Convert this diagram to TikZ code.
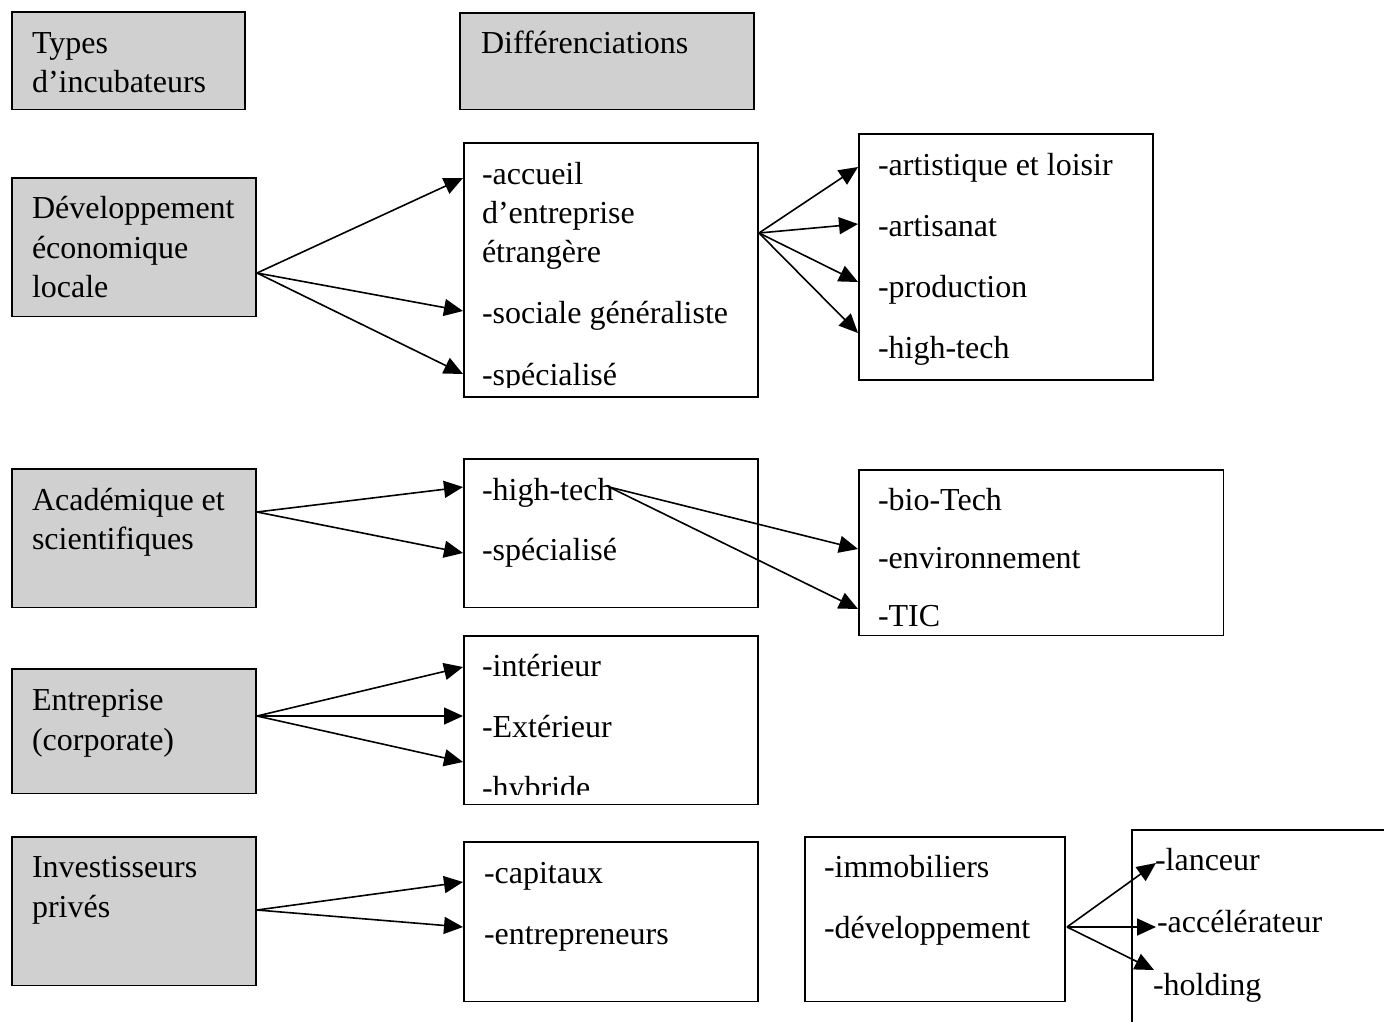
\documentclass[tikz,border=0pt]{standalone}
\usepackage{fontspec}
\setmainfont{Liberation Serif}
\usetikzlibrary{arrows.meta}
\definecolor{boxgray}{RGB}{208,208,208}
\tikzset{
  box/.style={draw=black, line width=1.6bp, inner sep=0pt, outer sep=0pt, anchor=north west},
  graybox/.style={box, fill=boxgray},
  txt/.style={anchor=base west, inner sep=0pt, outer sep=0pt, font=\fontsize{32bp}{39bp}\selectfont},
  arr/.style={line width=1.6bp, -{Triangle[length=19bp, width=17bp]}}
}
\begin{document}
\begin{tikzpicture}[x=1bp, y=-1bp]
\useasboundingbox (0,0) rectangle (1384,1021);
\fill[white] (0,0) rectangle (1384,1021);

% header boxes
\node[graybox, minimum width=234, minimum height=98] (hTypes) at (12,12) {};
\node[txt] (tTypes1) at (32,53) {Types};
\node[txt] (tTypes2) at (32,92) {d’incubateurs};
\node[graybox, minimum width=295, minimum height=97] (hDiff) at (460,13) {};
\node[txt] (tDiff) at (481,53) {Différenciations};

% row 1: développement économique locale
\node[graybox, minimum width=245, minimum height=139] (dev) at (12,178) {};
\node[txt] (tDev1) at (32,218) {Développement};
\node[txt] (tDev2) at (32,258) {économique};
\node[txt] (tDev3) at (32,297) {locale};
\node[box, minimum width=295, minimum height=255] (devA) at (464,143) {};
\begin{scope}
  \clip (466,145) rectangle (757,387);
  \node[txt] (tA1) at (482,184) {-accueil};
  \node[txt] (tA2) at (482,223) {d’entreprise};
  \node[txt] (tA3) at (482,262) {étrangère};
  \node[txt] (tA4) at (482,323) {-sociale généraliste};
  \node[txt] (tA5) at (482,385) {-spécialisé};
\end{scope}
\node[box, minimum width=295, minimum height=247] (devB) at (859,134) {};
\node[txt] (tB1) at (878,175) {-artistique et loisir};
\node[txt] (tB2) at (878,236) {-artisanat};
\node[txt] (tB3) at (878,297) {-production};
\node[txt] (tB4) at (878,358) {-high-tech};

\coordinate (devOut) at (257,273);
\coordinate (devIn1) at (463,178);
\coordinate (devIn2) at (463,311);
\coordinate (devIn3) at (463,374);
\draw[arr] (devOut) -- (devIn1);
\draw[arr] (devOut) -- (devIn2);
\draw[arr] (devOut) -- (devIn3);
\coordinate (devAOut) at (759,233);
\coordinate (devBIn1) at (858,167);
\coordinate (devBIn2) at (858,224);
\coordinate (devBIn3) at (858,282);
\coordinate (devBIn4) at (858,333);
\draw[arr] (devAOut) -- (devBIn1);
\draw[arr] (devAOut) -- (devBIn2);
\draw[arr] (devAOut) -- (devBIn3);
\draw[arr] (devAOut) -- (devBIn4);

% row 2: académique et scientifiques
\node[graybox, minimum width=245, minimum height=139] (aca) at (12,469) {};
\node[txt] (tAca1) at (32,510) {Académique et};
\node[txt] (tAca2) at (32,549) {scientifiques};
\node[box, minimum width=295, minimum height=149] (acaA) at (464,459) {};
\node[txt] (tC1) at (482,500) {-high-tech};
\node[txt] (tC2) at (482,560) {-spécialisé};
\node[box, minimum width=366, minimum height=166] (acaB) at (859,470) {};
\node[txt] (tD1) at (878,510) {-bio-Tech};
\node[txt] (tD2) at (878,568) {-environnement};
\node[txt] (tD3) at (878,626) {-TIC};

\coordinate (acaOut) at (257,512);
\coordinate (acaIn1) at (463,487);
\coordinate (acaIn2) at (463,553);
\draw[arr] (acaOut) -- (acaIn1);
\draw[arr] (acaOut) -- (acaIn2);
\coordinate (htOut) at (609,487);
\coordinate (acaBIn1) at (858,549);
\coordinate (acaBIn2) at (858,609);
\draw[arr] (htOut) -- (acaBIn1);
\draw[arr] (htOut) -- (acaBIn2);

% row 3: entreprise (corporate)
\node[graybox, minimum width=245, minimum height=125] (ent) at (12,669) {};
\node[txt] (tEnt1) at (32,710) {Entreprise};
\node[txt] (tEnt2) at (32,750) {(corporate)};
\node[box, minimum width=295, minimum height=169] (entA) at (464,636) {};
\begin{scope}
  \clip (466,638) rectangle (757,794);
  \node[txt] (tE1) at (482,676) {-intérieur};
  \node[txt] (tE2) at (482,737) {-Extérieur};
  \node[txt] (tE3) at (482,798) {-hybride};
\end{scope}

\coordinate (entOut) at (257,716);
\coordinate (entIn1) at (463,667);
\coordinate (entIn2) at (463,716);
\coordinate (entIn3) at (463,762);
\draw[arr] (entOut) -- (entIn1);
\draw[arr] (entOut) -- (entIn2);
\draw[arr] (entOut) -- (entIn3);

% row 4: investisseurs privés
\node[graybox, minimum width=245, minimum height=149] (inv) at (12,837) {};
\node[txt] (tInv1) at (32,877) {Investisseurs};
\node[txt] (tInv2) at (32,917) {privés};
\node[box, minimum width=295, minimum height=160] (invA) at (464,842) {};
\node[txt] (tF1) at (484,883) {-capitaux};
\node[txt] (tF2) at (484,944) {-entrepreneurs};
\node[box, minimum width=261, minimum height=165] (invB) at (805,837) {};
\node[txt] (tG1) at (824,877) {-immobiliers};
\node[txt] (tG2) at (824,938) {-développement};
\node[inner sep=0pt, outer sep=0pt, minimum width=260, minimum height=200, anchor=north west] (invC) at (1132,830) {};
\draw[line width=1.6bp] (invC.south west) -- (invC.north west) -- (invC.north east);
\node[txt] (tH1) at (1155,870) {-lanceur};
\node[txt] (tH2) at (1157,932) {-accélérateur};
\node[txt] (tH3) at (1153,995) {-holding};

\coordinate (invOut) at (257,910);
\coordinate (invIn1) at (463,882);
\coordinate (invIn2) at (463,927);
\draw[arr] (invOut) -- (invIn1);
\draw[arr] (invOut) -- (invIn2);
\coordinate (invBOut) at (1067,927);
\coordinate (invCIn1) at (1156,863);
\coordinate (invCIn2) at (1156,927);
\coordinate (invCIn3) at (1154,970);
\draw[arr] (invBOut) -- (invCIn1);
\draw[arr] (invBOut) -- (invCIn2);
\draw[arr] (invBOut) -- (invCIn3);
\end{tikzpicture}
\end{document}
